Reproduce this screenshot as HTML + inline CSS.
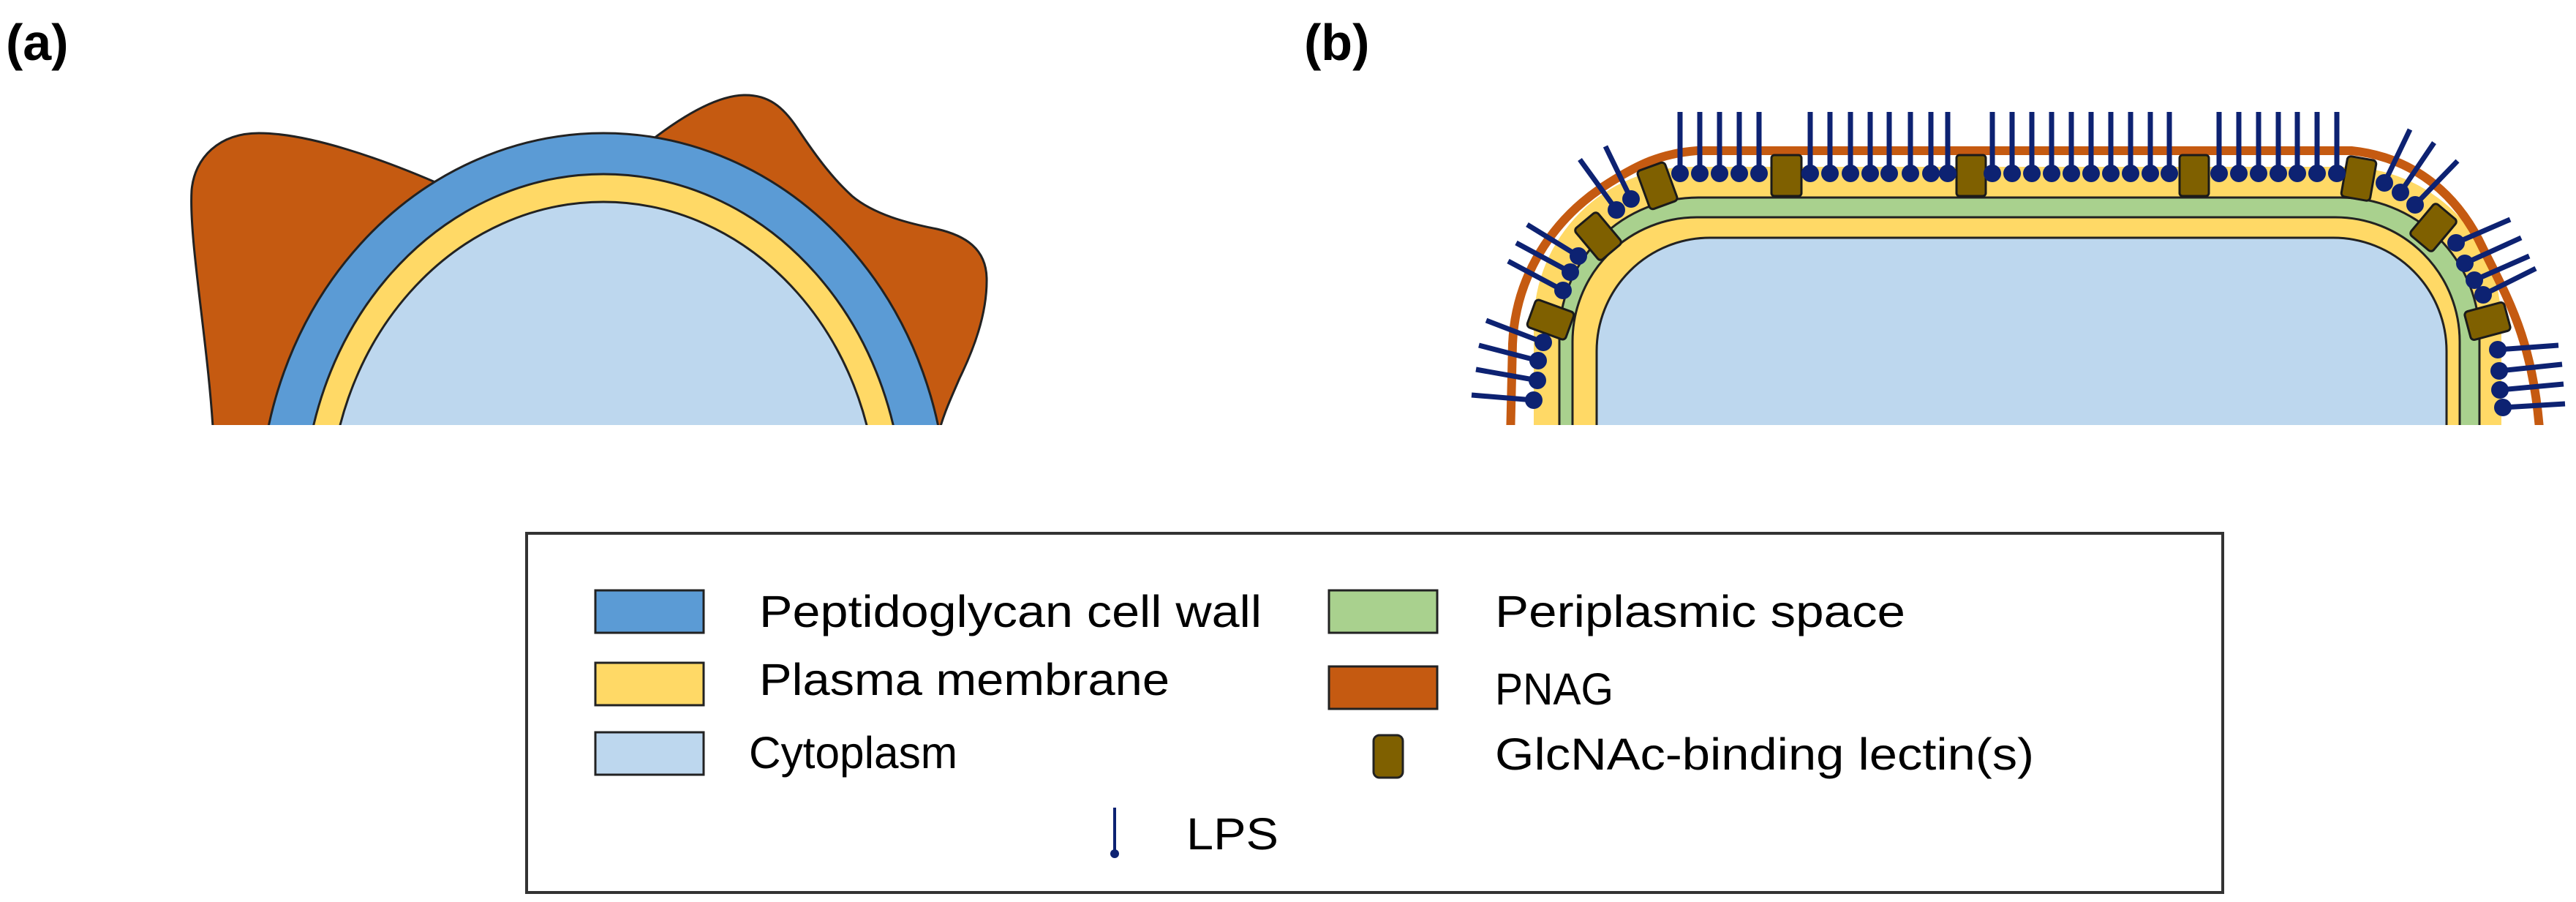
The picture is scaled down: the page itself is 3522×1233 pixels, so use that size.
<!DOCTYPE html>
<html><head><meta charset="utf-8"><style>
html,body{margin:0;padding:0;background:#fff;}
svg{display:block;}
text{font-family:"Liberation Sans",Arial,sans-serif;}
</style></head><body>
<svg width="3522" height="1233" viewBox="0 0 3522 1233" xmlns="http://www.w3.org/2000/svg">
<defs><clipPath id="c"><rect x="0" y="0" width="3522" height="581"/></clipPath></defs>
<rect width="3522" height="1233" fill="#fff"/>
<text x="8" y="82" font-size="70" font-weight="bold">(a)</text>
<text x="1783" y="82" font-size="70" font-weight="bold">(b)</text>

<g clip-path="url(#c)" stroke="#222" stroke-width="3">
<path d="M292,600 C285,470 258,330 262,260 C266,215 300,182 354,182 C420,182 520,215 620,260 L860,260 L880,200 C930,160 980,130 1019,130 C1050,130 1070,145 1090,175 C1120,220 1140,245 1165,268 C1195,293 1240,305 1281,313 C1320,322 1348,340 1349,380 C1350,430 1330,480 1312,517 C1300,545 1290,565 1281,600 Z" fill="#C55A11"/>
<ellipse cx="825" cy="700" rx="470" ry="518" fill="#5B9BD5"/>
<ellipse cx="825" cy="700" rx="410" ry="462" fill="#FFD966"/>
<ellipse cx="825" cy="700" rx="375" ry="424" fill="#BDD7EE"/>
</g>

<g clip-path="url(#c)">
<path d="M2097,600 L2097,443 A215,215 0 0 1 2312,228 L3205,228 A215,215 0 0 1 3420,443 L3420,600 Z" fill="#FFD966"/>
<path d="M2132,600 L2132,460 A190,190 0 0 1 2322,270 L3200,270 A190,190 0 0 1 3390,460 L3390,600 Z" fill="#A9D18E" stroke="#222" stroke-width="3"/>
<path d="M2150,600 L2150,467 A170,170 0 0 1 2320,297 L3193,297 A170,170 0 0 1 3363,467 L3363,600 Z" fill="#FFD966" stroke="#222" stroke-width="3"/>
<path d="M2183,600 L2183,480 A155,155 0 0 1 2338,325 L3190,325 A155,155 0 0 1 3345,480 L3345,600 Z" fill="#BDD7EE" stroke="#222" stroke-width="3"/>
<path d="M2065,600 L2068,470 C2072,380 2120,300 2200,250 C2240,225 2270,210 2320,206 L3215,206 C3300,215 3360,265 3395,340 C3430,410 3465,470 3473,600" fill="none" stroke="#C55A11" stroke-width="12"/>

<g fill="#7F6000" stroke="#1a1a1a" stroke-width="3">
<rect x="2422" y="212" width="41" height="56" rx="4"/>
<rect x="2675" y="212" width="40" height="56" rx="4"/>
<rect x="2980" y="212" width="40" height="56" rx="4"/>
<rect x="-20" y="-28" width="40" height="56" rx="5" transform="translate(2266,254) rotate(-20)"/>
<rect x="-20" y="-28" width="40" height="56" rx="5" transform="translate(2185,323) rotate(-40)"/>
<rect x="-20" y="-28" width="40" height="56" rx="5" transform="translate(2120,437) rotate(-70)"/>
<rect x="-20" y="-28" width="40" height="56" rx="5" transform="translate(3225,244) rotate(10)"/>
<rect x="-20" y="-28" width="40" height="56" rx="5" transform="translate(3327,311) rotate(40)"/>
<rect x="-20" y="-28" width="40" height="56" rx="5" transform="translate(3401,439) rotate(75)"/>
</g>

<g stroke="#0d2272" stroke-width="7" fill="#0d2272">
<path d="M2297,153V237M2324,153V237M2351,153V237M2378,153V237M2405,153V237M2475,153V237M2502,153V237M2530,153V237M2557,153V237M2583,153V237M2612,153V237M2640,153V237M2663,153V237M2724,153V237M2751,153V237M2778,153V237M2805,153V237M2832,153V237M2859,153V237M2886,153V237M2913,153V237M2940,153V237M2966,153V237M3034,153V237M3061,153V237M3088,153V237M3115,153V237M3141,153V237M3168,153V237M3195,153V237"/>
<path d="M2210,287L2160,218M2230,272L2195,200M2158,350L2088,307M2147,372L2073,332M2137,397L2062,357M2110,468L2032,438M2103,493L2022,472M2102,520L2018,505M2097,547L2012,540M3260,250L3295,177M3282,263L3328,195M3302,280L3360,220M3358,332L3432,300M3370,360L3447,325M3383,383L3458,350M3395,403L3467,367M3415,478L3498,472M3417,507L3503,498M3418,533L3505,525M3422,557L3507,552"/>
<g stroke="none">
<circle cx="2297" cy="237" r="12"/><circle cx="2324" cy="237" r="12"/><circle cx="2351" cy="237" r="12"/><circle cx="2378" cy="237" r="12"/><circle cx="2405" cy="237" r="12"/>
<circle cx="2475" cy="237" r="12"/><circle cx="2502" cy="237" r="12"/><circle cx="2530" cy="237" r="12"/><circle cx="2557" cy="237" r="12"/><circle cx="2583" cy="237" r="12"/><circle cx="2612" cy="237" r="12"/><circle cx="2640" cy="237" r="12"/><circle cx="2663" cy="237" r="12"/>
<circle cx="2724" cy="237" r="12"/><circle cx="2751" cy="237" r="12"/><circle cx="2778" cy="237" r="12"/><circle cx="2805" cy="237" r="12"/><circle cx="2832" cy="237" r="12"/><circle cx="2859" cy="237" r="12"/><circle cx="2886" cy="237" r="12"/><circle cx="2913" cy="237" r="12"/><circle cx="2940" cy="237" r="12"/><circle cx="2966" cy="237" r="12"/>
<circle cx="3034" cy="237" r="12"/><circle cx="3061" cy="237" r="12"/><circle cx="3088" cy="237" r="12"/><circle cx="3115" cy="237" r="12"/><circle cx="3141" cy="237" r="12"/><circle cx="3168" cy="237" r="12"/><circle cx="3195" cy="237" r="12"/>
<circle cx="2210" cy="287" r="12"/><circle cx="2230" cy="272" r="12"/><circle cx="2158" cy="350" r="12"/><circle cx="2147" cy="372" r="12"/><circle cx="2137" cy="397" r="12"/><circle cx="2110" cy="468" r="12"/><circle cx="2103" cy="493" r="12"/><circle cx="2102" cy="520" r="12"/><circle cx="2097" cy="547" r="12"/>
<circle cx="3260" cy="250" r="12"/><circle cx="3282" cy="263" r="12"/><circle cx="3302" cy="280" r="12"/><circle cx="3358" cy="332" r="12"/><circle cx="3370" cy="360" r="12"/><circle cx="3383" cy="383" r="12"/><circle cx="3395" cy="403" r="12"/><circle cx="3415" cy="478" r="12"/><circle cx="3417" cy="507" r="12"/><circle cx="3418" cy="533" r="12"/><circle cx="3422" cy="557" r="12"/>
</g>
</g>
</g>

<rect x="720" y="729" width="2319" height="491" fill="none" stroke="#333" stroke-width="4"/>
<g stroke="#222" stroke-width="3">
<rect x="814" y="807" width="148" height="58" fill="#5B9BD5"/>
<rect x="814" y="906" width="148" height="58" fill="#FFD966"/>
<rect x="814" y="1001" width="148" height="58" fill="#BDD7EE"/>
<rect x="1817" y="807" width="148" height="58" fill="#A9D18E"/>
<rect x="1817" y="911" width="148" height="58" fill="#C55A11"/>
<rect x="1878" y="1005" width="40" height="58" rx="8" fill="#7F6000"/>
</g>
<g font-size="61" fill="#000">
<text x="1038" y="857" textLength="687" lengthAdjust="spacingAndGlyphs">Peptidoglycan cell wall</text>
<text x="1038" y="950" textLength="561" lengthAdjust="spacingAndGlyphs">Plasma membrane</text>
<text x="1024" y="1050" textLength="285" lengthAdjust="spacingAndGlyphs">Cytoplasm</text>
<text x="2044" y="857" textLength="561" lengthAdjust="spacingAndGlyphs">Periplasmic space</text>
<text x="2044" y="963" textLength="162" lengthAdjust="spacingAndGlyphs">PNAG</text>
<text x="2044" y="1052" textLength="737" lengthAdjust="spacingAndGlyphs">GlcNAc-binding lectin(s)</text>
<text x="1622" y="1161" textLength="126" lengthAdjust="spacingAndGlyphs">LPS</text>
</g>
<line x1="1524" y1="1104" x2="1524" y2="1166" stroke="#0d2272" stroke-width="4"/>
<circle cx="1524" cy="1167" r="6" fill="#0d2272"/>
</svg>
</body></html>
